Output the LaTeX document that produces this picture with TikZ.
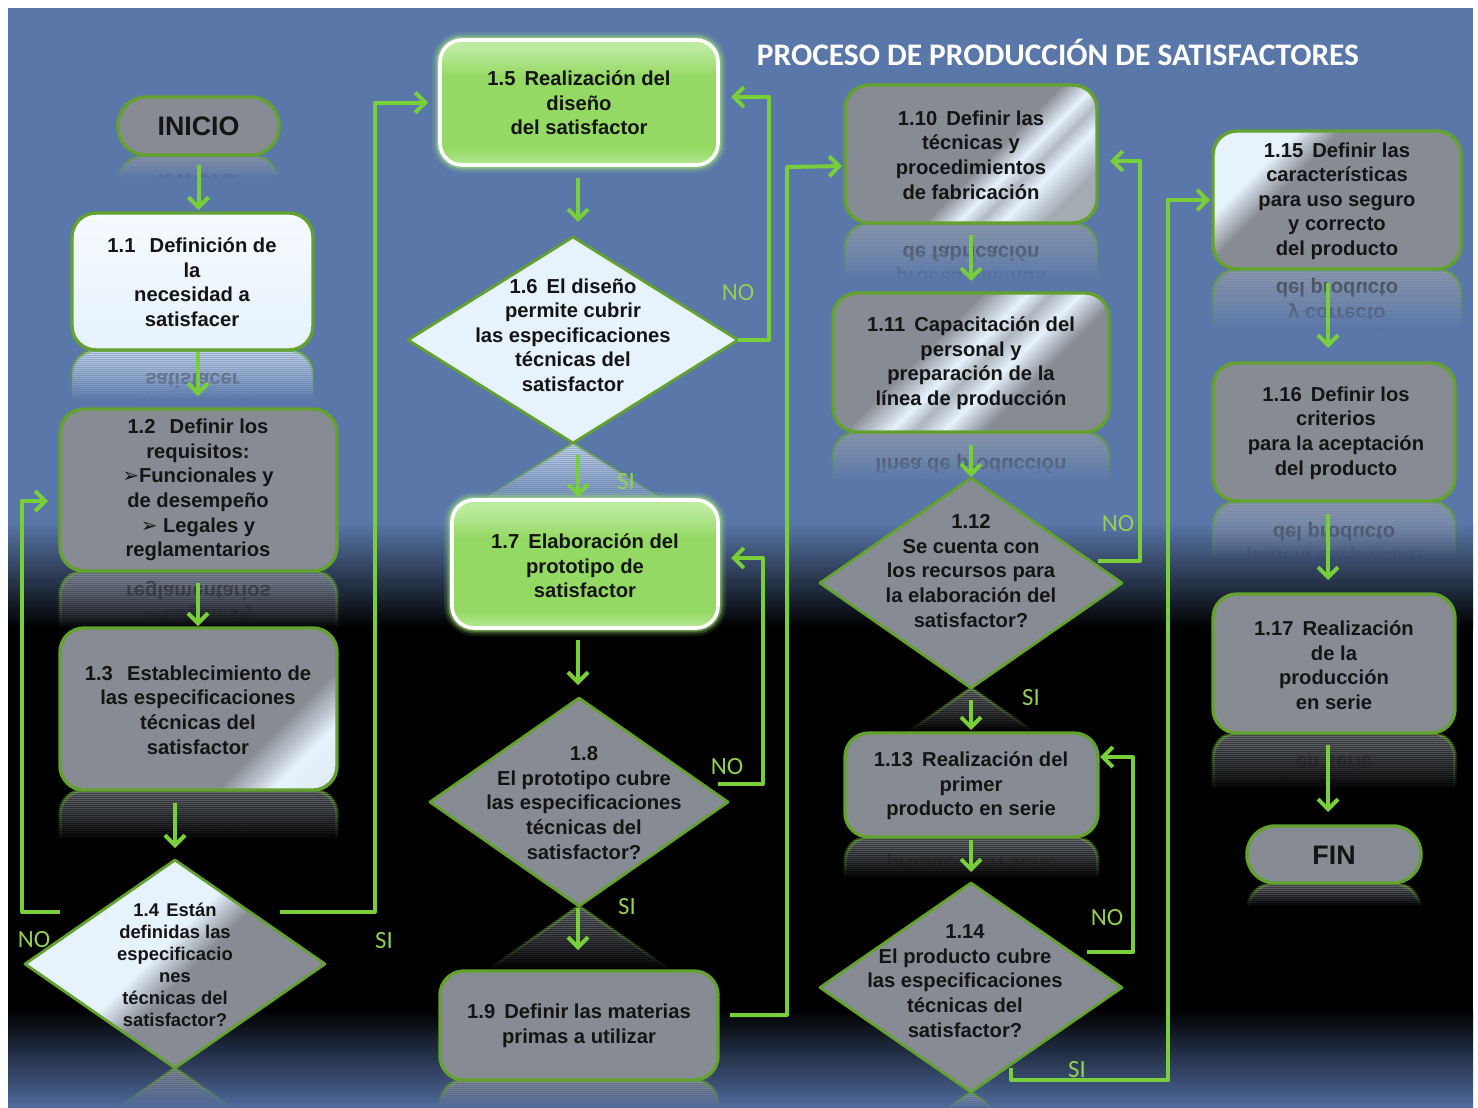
\documentclass[tikz,border=0pt]{standalone}
\usepackage{fontspec}
\setmainfont{Liberation Sans}
\newfontfamily\calib{Carlito}
\newfontfamily\symf{DejaVu Sans}
\usetikzlibrary{shapes.geometric,arrows.meta}

\definecolor{bgblue}{HTML}{5977A9}
\definecolor{bgblue2}{HTML}{506B9D}
\definecolor{boxgray}{HTML}{878C94}
\definecolor{boxlight}{HTML}{E6F2FC}
\definecolor{edge}{HTML}{63A22F}
\definecolor{wire}{HTML}{78CF3A}
\definecolor{tag}{HTML}{92D050}
\definecolor{gtop}{HTML}{BDEBA0}
\definecolor{gmid}{HTML}{94D963}
\definecolor{gbot}{HTML}{B4E792}
\definecolor{glow}{HTML}{A8EC78}

% metallic sheens for the grey boxes
\pgfdeclarehorizontalshading{sheenA}{100bp}{color(0bp)=(boxgray); color(54bp)=(boxgray); color(60bp)=(boxlight); color(64bp)=(boxgray!55!boxlight); color(68bp)=(boxlight); color(76bp)=(boxgray!70!boxlight); color(100bp)=(boxgray!70!boxlight)}
\pgfdeclarehorizontalshading{sheenB}{100bp}{color(0bp)=(boxgray); color(40bp)=(boxgray); color(48bp)=(boxlight); color(52bp)=(boxgray!60!boxlight); color(57bp)=(boxlight); color(64bp)=(boxgray); color(100bp)=(boxgray)}
\pgfdeclarehorizontalshading{sheenC}{100bp}{color(0bp)=(boxgray); color(66bp)=(boxgray); color(75bp)=(boxlight); color(100bp)=(boxlight!80!boxgray)}
\pgfdeclarehorizontalshading{sheenD}{100bp}{color(0bp)=(boxlight); color(30bp)=(boxlight); color(38bp)=(boxgray); color(100bp)=(boxgray)}
\pgfdeclarehorizontalshading{sheenE}{100bp}{color(0bp)=(boxgray!50!boxlight); color(30bp)=(boxlight); color(46bp)=(boxlight); color(53bp)=(boxgray); color(100bp)=(boxgray)}
% glossy green fill
\pgfdeclareverticalshading{greenfill}{100bp}{color(0bp)=(gbot); color(25bp)=(gbot); color(32bp)=(gmid); color(60bp)=(gmid); color(72bp)=(gtop); color(100bp)=(gtop)}

\tikzset{
  sz/.style 2 args={minimum width=#1*0.5pt, minimum height=#2*0.5pt},
  box/.style={rectangle, rounded corners=12pt, draw=edge, line width=1.7pt,
    fill=boxgray, inner sep=0pt, outer sep=0pt},
  pill/.style={box, rounded corners=14pt},
  dia/.style={diamond, draw=edge, line width=1.4pt, line join=round,
    fill=boxgray, inner sep=0pt, outer sep=0pt},
  metal/.style={shade, shading angle=-45},
  gbox/.style={rectangle, rounded corners=11pt, draw=white, line width=1.8pt,
    shade, shading=greenfill, inner sep=0pt, outer sep=0pt,
    preaction={draw=glow, line width=8pt, draw opacity=0.12},
    preaction={draw=glow, line width=5.5pt, draw opacity=0.22},
    preaction={draw=glow, line width=3.5pt, draw opacity=0.45}},
  tx/.style={font=\fontsize{10.1}{12.3}\selectfont\bfseries, align=center,
    text=black!92, inner sep=0pt},
  small/.style={font=\fontsize{9.2}{11}\selectfont\bfseries},
  big/.style={font=\fontsize{13.4}{16}\selectfont\bfseries},
  lbl/.style={font=\calib\fontsize{12.4}{14}\selectfont, text=tag, inner sep=0pt},
  arr/.style={draw=wire, line width=2pt, line join=round,
    -{Straight Barb[length=5pt,width=10pt]}},
}

% a copy of some drawing, faded out downwards in 2-unit strips
\newcommand\fadecopy[5]{%
  \pgfmathtruncatemacro\fn{#4/2}%
  \foreach \k in {1,...,\fn}{%
    \pgfmathsetmacro\fo{0.5*(1-(\k-0.5)/\fn)}%
    \pgfmathtruncatemacro\fa{#3+2*(\k-1)}%
    \begin{scope}
      \clip (#1,\fa) rectangle (#2,\fa+2);
      \begin{scope}[opacity=\fo]
        #5
      \end{scope}
    \end{scope}}}
% mirror image below a shape: id, cx, bottom y, half width, length, style, mirrored centre y, mirrored text y, text
\newcommand\reflect[9]{%
  \fadecopy{#2-#4-4}{#2+#4+4}{#3}{#5}{%
    \node[#6] (#1-r\k) at (#2,#7) {};
    \node[tx, yscale=-1, transform shape] (#1-m\k) at (#2,#8) {#9};}}

\newcommand\arw{{\symf\fontsize{10}{10}\selectfont ➢}}

\begin{document}
\begin{tikzpicture}[x=0.5pt,y=-0.5pt]
\useasboundingbox (0,0) rectangle (1478,1108);
% page and backdrop
\fill[white] (0,0) rectangle (1478,1108);
\fill[bgblue] (8,8) rectangle (1473,522);
\shade[top color=bgblue, bottom color=black] (8,522) rectangle (1473,628);
\fill[black] (8,627) rectangle (1473,1011);
\shade[top color=black, bottom color=bgblue2] (8,1010) rectangle (1473,1108);

% reflections
\reflect{inicio}{198.5}{156}{80.5}{22}{pill, sz={161}{58}, fill=boxgray!85!white}{184}{184}{\fontsize{13.4}{16}\selectfont INICIO}
\reflect{n11}{192.5}{350}{120.5}{50}{box, sz={241}{137}, fill=boxlight}{418.5}{418}{1.1\hspace{0.7em}Definición de\\la\\necesidad a\\satisfacer}
\reflect{n12}{198.5}{572}{138.5}{56}{box, sz={277}{162}, fill=boxgray!85!white}{652}{652}{1.2\hspace{0.7em}Definir los\\requisitos:\\\arw Funcionales y\\de desempeño\\\arw\ Legales y\\reglamentarios}
\reflect{n13}{198.5}{790}{138.5}{50}{box, sz={277}{162}}{871}{870}{1.3\hspace{0.7em}Establecimiento de\\las especificaciones\\técnicas del\\satisfactor}
\reflect{n19}{579}{1080}{139}{28}{box, sz={278}{109}, fill=boxgray!85!white}{1134.5}{1134}{}
\reflect{n110}{971}{224}{126}{56}{box, sz={252}{138}, fill=boxgray!80!white}{292}{291}{1.10\hspace{0.45em}Definir las\\técnicas y\\procedimientos\\de fabricación}
\reflect{n111}{971}{432}{138}{50}{box, sz={276}{139}, fill=boxgray!80!white}{501.5}{501}{1.11\hspace{0.45em}Capacitación del\\personal y\\preparación de la\\línea de producción}
\reflect{n113}{971.5}{838}{126.5}{40}{box, sz={253}{104}}{889}{888}{1.13\hspace{0.45em}Realización del\\primer\\producto en serie}
\reflect{n115}{1337}{270}{124}{60}{box, sz={248}{138}, fill=boxgray!80!white}{338}{337}{1.15\hspace{0.45em}Definir las\\características\\para uso seguro\\y correcto\\del producto}
\reflect{n116}{1334}{502}{121}{56}{box, sz={242}{138}, fill=boxgray!80!white}{570}{569}{1.16\hspace{0.45em}Definir los\\criterios\\para la aceptación\\del producto}
\reflect{n117}{1334}{734}{121}{56}{box, sz={242}{139}}{802.5}{801}{1.17\hspace{0.45em}Realización\\de la\\producción\\en serie}
\reflect{fin}{1334}{884}{87}{22}{pill, sz={174}{57}}{911.5}{911}{\fontsize{13.4}{16}\selectfont FIN}
\reflect{n14}{175}{1068}{150}{40}{dia, sz={300}{208}, fill=boxgray!80!white}{1172}{1172}{}
\reflect{n16}{573}{443}{165}{70}{dia, sz={330}{206}, fill=boxlight}{546}{546}{}
\reflect{n18}{579}{906}{149}{64}{dia, sz={298}{208}}{1010}{1010}{}
\reflect{n112}{971}{688}{151}{44}{dia, sz={302}{210}}{793}{793}{}
\reflect{n114}{971}{1092}{151}{16}{dia, sz={302}{209}, fill=boxgray!80!white}{1196.5}{1196.5}{}

% shapes
\node[pill, sz={161}{58}] (inicio) at (198.5,126) {};
\node[box, top color=boxlight!40!white, bottom color=boxlight, sz={241}{137}] (n11) at (192.5,281.5) {};
\node[box, sz={277}{162}] (n12) at (198.5,490) {};
\node[box, metal, shading=sheenC, sz={277}{162}] (n13) at (198.5,709) {};
\node[dia, metal, shading=sheenE, sz={300}{208}] (n14) at (175,964) {};
\node[gbox, sz={278}{125}] (n15) at (579,102.5) {};
\node[dia, fill=boxlight, sz={330}{206}] (n16) at (573,340) {};
\node[gbox, sz={266}{128}] (n17) at (585,564) {};
\node[dia, sz={298}{208}] (n18) at (579,802) {};
\node[box, sz={278}{109}] (n19) at (579,1025.5) {};
\node[box, metal, shading=sheenA, sz={252}{138}] (n110) at (971,154) {};
\node[box, metal, shading=sheenB, sz={276}{139}] (n111) at (971,362.5) {};
\node[dia, sz={302}{210}] (n112) at (971,583) {};
\node[box, sz={253}{104}] (n113) at (971.5,785) {};
\node[dia, sz={302}{209}] (n114) at (971,987.5) {};
\node[box, metal, shading=sheenD, sz={248}{138}] (n115) at (1337,200) {};
\node[box, sz={242}{138}] (n116) at (1334,432) {};
\node[box, sz={242}{139}] (n117) at (1334,663.5) {};
\node[pill, sz={174}{57}] (fin) at (1334,854.5) {};

% texts
\node[tx, big] (tinicio) at (198.5,126) {INICIO};
\node[tx] (t11) at (192,282) {1.1\hspace{0.7em}Definición de\\la\\necesidad a\\satisfacer};
\node[tx] (t12) at (198,490) {1.2\hspace{0.7em}Definir los\\requisitos:\\\arw Funcionales y\\de desempeño\\\arw\ Legales y\\reglamentarios};
\node[tx] (t13) at (198,710) {1.3\hspace{0.7em}Establecimiento de\\las especificaciones\\técnicas del\\satisfactor};
\node[tx, small] (t14) at (175,965) {1.4\hspace{0.4em}Están\\definidas las\\especificacio\\nes\\técnicas del\\satisfactor?};
\node[tx] (t15) at (579,103) {1.5\hspace{0.45em}Realización del\\diseño\\del satisfactor};
\node[tx] (t16) at (573,335) {1.6\hspace{0.45em}El diseño\\permite cubrir\\las especificaciones\\técnicas del\\satisfactor};
\node[tx] (t17) at (585,566) {1.7\hspace{0.45em}Elaboración del\\prototipo de\\satisfactor};
\node[tx] (t18) at (584,803) {1.8\\El prototipo cubre\\las especificaciones\\técnicas del\\satisfactor?};
\node[tx] (t19) at (579,1026) {1.9\hspace{0.45em}Definir las materias\\primas a utilizar};
\node[tx] (t110) at (971,155) {1.10\hspace{0.45em}Definir las\\técnicas y\\procedimientos\\de fabricación};
\node[tx] (t111) at (971,363) {1.11\hspace{0.45em}Capacitación del\\personal y\\preparación de la\\línea de producción};
\node[tx] (t112) at (971,571) {1.12\\Se cuenta con\\los recursos para\\la elaboración del\\satisfactor?};
\node[tx] (t113) at (971,786) {1.13\hspace{0.45em}Realización del\\primer\\producto en serie};
\node[tx] (t114) at (965,981) {1.14\\El producto cubre\\las especificaciones\\técnicas del\\satisfactor?};
\node[tx] (t115) at (1337,201) {1.15\hspace{0.45em}Definir las\\características\\para uso seguro\\y correcto\\del producto};
\node[tx] (t116) at (1336,433) {1.16\hspace{0.45em}Definir los\\criterios\\para la aceptación\\del producto};
\node[tx] (t117) at (1334,665) {1.17\hspace{0.45em}Realización\\de la\\producción\\en serie};
\node[tx, big] (tfin) at (1334,855) {FIN};

\node[font=\calib\bfseries\fontsize{15.7}{18}\selectfont, text=white, inner sep=0pt] (title) at (1058,52) {PROCESO DE PRODUCCIÓN DE SATISFACTORES};

% columns and bends of the connectors
\coordinate (colA) at (198,0);
\coordinate (colA2) at (175,0);
\coordinate (colB) at (578,0);
\coordinate (colC) at (971,0);
\coordinate (colD) at (1328,0);
\coordinate (n14no) at (60,912);
\coordinate (b1) at (22,912);
\coordinate (n14si) at (280,912);
\coordinate (b2) at (375,102.5);
\coordinate (b3) at (769,97);
\coordinate (n18no) at (718,784);
\coordinate (b4) at (763,558);
\coordinate (n19out) at (730,1015);
\coordinate (b5) at (787,167);
\coordinate (n112no) at (1098,561);
\coordinate (b6) at (1140,161);
\coordinate (n114no) at (1087,952);
\coordinate (b7) at (1133,757);
\coordinate (n114si) at (1011,1068);
\coordinate (b8) at (1168,1080);

% straight connectors
\draw[arr, shorten <=5pt, shorten >=1.5pt] (inicio.south) -- (inicio.south |- n11.north);
\draw[arr, shorten <=1pt, shorten >=6.5pt] (colA |- n11.south) -- (colA |- n12.north);
\draw[arr, shorten <=6pt, shorten >=1pt] (colA |- n12.south) -- (colA |- n13.north);
\draw[arr, shorten <=6.5pt, shorten >=6pt] (colA2 |- n13.south) -- (n14.north);
\draw[arr, shorten <=6.5pt, shorten >=7.5pt] (colB |- n15.south) -- (colB |- n16.north);
\draw[arr, shorten <=6pt, shorten >=1.5pt] (colB |- n16.south) -- (colB |- n17.north);
\draw[arr, shorten <=6pt, shorten >=6.5pt] (colB |- n17.south) -- (colB |- n18.north);
\draw[arr, shorten <=1pt, shorten >=10.5pt] (colB |- n18.south) -- (colB |- n19.north);
\draw[arr, shorten <=6pt, shorten >=6pt] (colC |- n110.south) -- (colC |- n111.north);
\draw[arr, shorten <=6.5pt, shorten >=0.5pt] (colC |- n111.south) -- (colC |- n112.north);
\draw[arr, shorten <=6pt, shorten >=1.5pt] (colC |- n112.south) -- (colC |- n113.north);
\draw[arr, shorten <=1.5pt, shorten >=5.5pt] (colC |- n113.south) -- (colC |- n114.north);
\draw[arr, shorten <=7pt, shorten >=7.5pt] (colD |- n115.south) -- (colD |- n116.north);
\draw[arr, shorten <=6.5pt, shorten >=7pt] (colD |- n116.south) -- (colD |- n117.north);
\draw[arr, shorten <=6pt, shorten >=7pt] (colD |- n117.south) -- (colD |- fin.north);

% elbow connectors
\draw[arr, shorten >=6pt] (n14no) -- (b1) |- ([yshift=-5.5pt]n12.west);
\draw[arr, shorten >=6pt] (n14si) -| (b2) -- (n15.west);
\draw[arr, shorten >=6.5pt] (n16.east) -| (b3) -- ([yshift=2.75pt]n15.east);
\draw[arr, shorten >=6.5pt] (n18no) -| (b4) -- ([yshift=3pt]n17.east);
\draw[arr, shorten >=1.5pt] (n19out) -| (b5) -- ([yshift=-6pt]n110.west);
\draw[arr, shorten >=6.5pt] (n112no) -| (b6) -- ([yshift=-3.5pt]n110.east);
\draw[arr, shorten >=1pt] (n114no) -| (b7) -- ([yshift=14pt]n113.east);
\draw[arr, shorten >=1.5pt] (n114si) |- (b8) |- (n115.west);

% branch labels
\node[lbl] (l14no) at (34,940) {NO};
\node[lbl] (l14si) at (384,941) {SI};
\node[lbl] (l16no) at (738,293) {NO};
\node[lbl] (l16si) at (626,482) {SI};
\node[lbl] (l18no) at (727,767) {NO};
\node[lbl] (l18si) at (627,907) {SI};
\node[lbl] (l112no) at (1118,524) {NO};
\node[lbl] (l112si) at (1031,698) {SI};
\node[lbl] (l114no) at (1107,918) {NO};
\node[lbl] (l114si) at (1077,1070) {SI};
\end{tikzpicture}
\end{document}
